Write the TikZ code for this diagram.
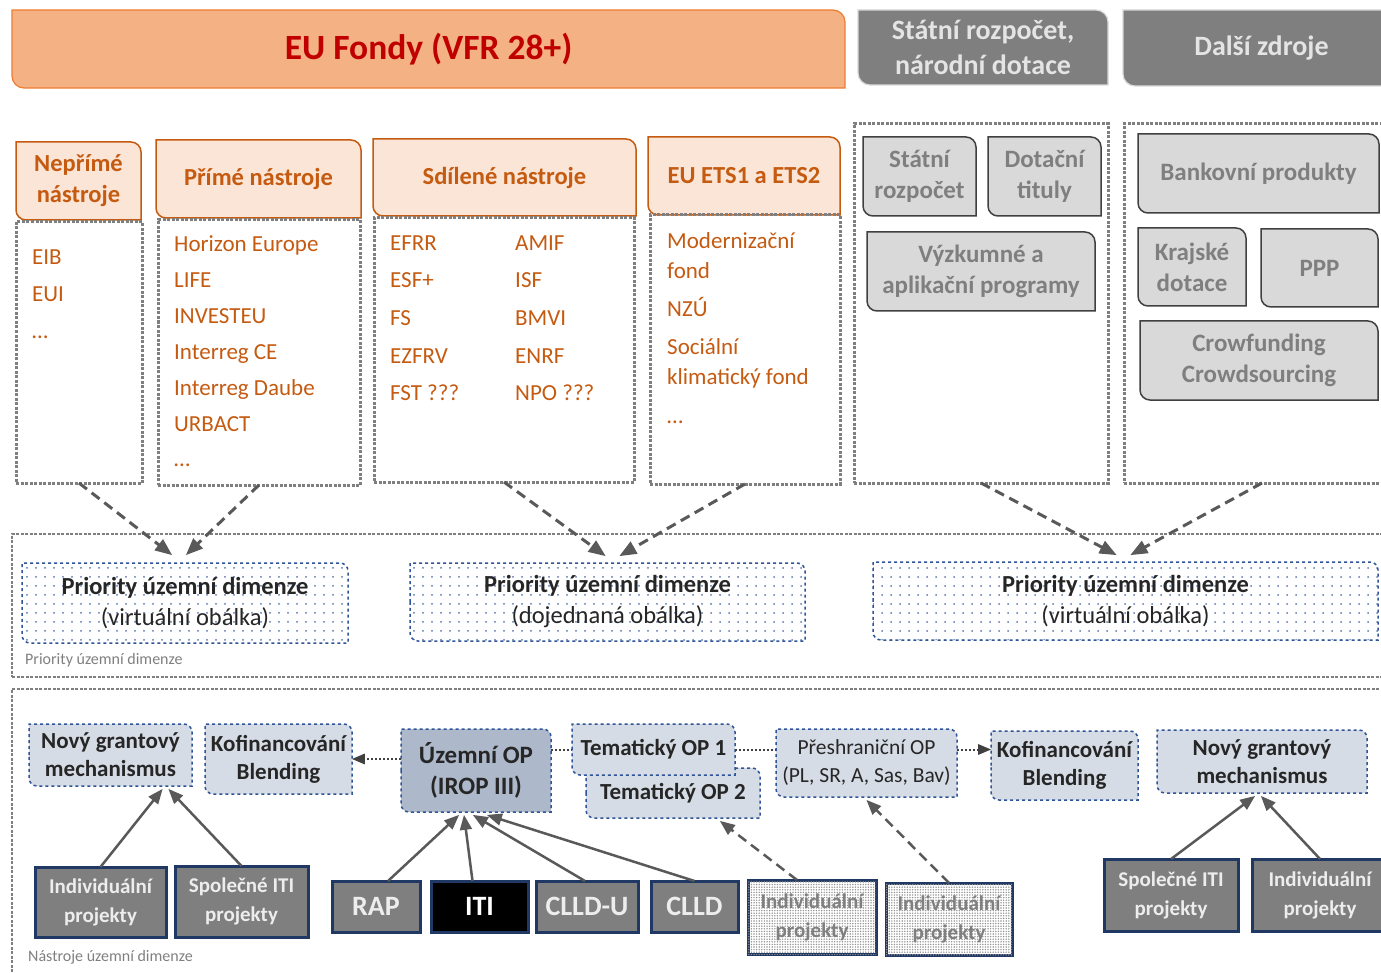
\documentclass[tikz,border=0pt]{standalone}
\usepackage{fontspec}
\setmainfont{Carlito}
\usepackage{tikz}
\usetikzlibrary{arrows,positioning,calc,patterns.meta}
\definecolor{cEUfill}{HTML}{F4B183}
\definecolor{cEUline}{HTML}{ED7D31}
\definecolor{cEUtext}{HTML}{C00000}
\definecolor{cPeach}{HTML}{FBE5D6}
\definecolor{cRust}{HTML}{C55A11}
\definecolor{cMid}{HTML}{7F7F7F}
\definecolor{cPale}{HTML}{D9D9D9}
\definecolor{cDark}{HTML}{404040}
\definecolor{cArrow}{HTML}{595959}
\definecolor{cBlue}{HTML}{2F5597}
\definecolor{cBlueFill}{HTML}{D6DCE5}
\definecolor{cBlueDeep}{HTML}{ADB9CA}
\definecolor{cNavy}{HTML}{1F3864}
\definecolor{cInk}{HTML}{262626}
\definecolor{cNatText}{HTML}{E4E4E4}
\pgfdeclarelayer{back}
\pgfsetlayers{back,main}
\newcommand\diag[3][10pt]{\begin{pgfonlayer}{back}\draw[#3] (#2.west) -- (#2.north west) [rounded corners=#1] -- (#2.north east) [sharp corners] -- (#2.south east) [rounded corners=#1] -- (#2.south west) [sharp corners] -- cycle;\end{pgfonlayer}}
\tikzset{box/.style={inner sep=0pt, outer sep=0pt, align=center},
  eubox/.style={box, text=cEUtext, font=\fontsize{35.5}{42}\selectfont\bfseries},
  eushape/.style={fill=cEUfill, draw=cEUline, line width=1.2pt},
  natbox/.style={box, text=cNatText, font=\fontsize{28}{35}\selectfont\bfseries},
  natshape/.style={fill=cMid, draw=cPale, line width=1.2pt},
  headbox/.style={box, text=cRust, font=\fontsize{24.5}{31}\selectfont\bfseries},
  headshape/.style={fill=cPeach, draw=cRust, line width=1.5pt},
  fundframe/.style={box, draw=cMid, line width=3pt, dash pattern=on 3pt off 1.5pt},
  fund/.style={inner sep=0pt, anchor=west, text=cRust, font=\fontsize{23}{30}\selectfont, text height=17pt, text depth=2pt},
  srcbox/.style={box, text=cMid, font=\fontsize{25}{31}\selectfont\bfseries},
  srcshape/.style={fill=cPale, draw=cDark, line width=1.5pt},
  prio/.style={box, text=cInk, font=\fontsize{24.5}{31}\selectfont},
  prioshape/.style={draw=cBlue, dashed, line width=1.5pt, pattern={Dots[distance=9pt,radius=1pt]}, pattern color=cBlue!80},
  tool/.style={box, text=cInk, font=\fontsize{23}{28}\selectfont\bfseries},
  toolshape/.style={fill=cBlueFill, draw=cBlue, dashed, line width=1.5pt},
  proj/.style={box, fill=cMid, draw=cNavy, line width=3pt, text=white!93!black, font=\fontsize{21}{29}\selectfont\bfseries},
  projdot/.style={proj, fill=white, text=cMid, postaction={pattern={Dots[distance=2.6pt,radius=0.8pt]}, pattern color=gray!85}},
  feed/.style={-triangle 45, draw=cArrow, line width=3pt, dash pattern=on 10pt off 6pt},
  link/.style={-triangle 45, draw=cArrow, line width=2.5pt},
  tie/.style={draw=cDark, line width=2pt, dotted},
  label/.style={anchor=west, inner sep=0pt, text=cMid, font=\fontsize{16}{18}\selectfont}}
\begin{document}
\begin{tikzpicture}[x=1pt,y=-1pt]
\useasboundingbox (0,0) rectangle (1381,973);
\node[eubox, minimum width=833pt, minimum height=78pt] (eu) at (428.5,49) {EU Fondy (VFR 28+)};
\diag[12pt]{eu}{eushape}
\node[natbox, minimum width=250pt, minimum height=75pt] (nat) at (983,47.5) {Státní rozpočet,\\národní dotace};
\diag[12pt]{nat}{natshape}
\node[natbox, minimum width=277pt, minimum height=76pt] (dal) at (1261.5,48) {Další zdroje};
\diag[12pt]{dal}{natshape}

\node[headbox, minimum width=125pt, minimum height=78pt] (nep) at (78.5,181) {Nepřímé\\nástroje};
\node[headbox, minimum width=205pt, minimum height=78pt] (pri) at (258.5,179) {Přímé nástroje};
\node[headbox, minimum width=263pt, minimum height=77pt] (sdi) at (504.5,177.5) {Sdílené nástroje};
\node[headbox, minimum width=192pt, minimum height=78pt] (ets) at (744,176) {EU ETS1 a ETS2};
\foreach \h in {nep,pri,sdi,ets} \diag{\h}{headshape};

\node[fundframe, minimum width=126pt, minimum height=261pt] (fr1) at (79,352.5) {};
\node[fundframe, minimum width=202pt, minimum height=265pt] (fr2) at (259,352.5) {};
\node[fundframe, minimum width=260pt, minimum height=264pt] (fr3) at (504,350) {};
\node[fundframe, minimum width=190pt, minimum height=269pt] (fr4) at (745,349.5) {};
\node[fundframe, minimum width=254pt, minimum height=359pt] (fr5) at (981,303.5) {};
\node[fundframe, minimum width=276pt, minimum height=359pt] (fr6) at (1262,303.5) {};

\foreach \f [count=\i] in {EIB,EUI,\dots}
  \node[fund] (nep\i) at (32,{257+37*(\i-1)}) {\f};
\foreach \f [count=\i] in {Horizon Europe,LIFE,INVESTEU,Interreg CE,Interreg Daube,URBACT,\dots}
  \node[fund] (pri\i) at (174,{244+35.9*(\i-1)}) {\f};
\foreach \f [count=\i] in {EFRR,ESF+,FS,EZFRV,FST ???}
  \node[fund] (sda\i) at (390,{243+37.5*(\i-1)}) {\f};
\foreach \f [count=\i] in {AMIF,ISF,BMVI,ENRF,NPO ???}
  \node[fund] (sdb\i) at (515,{243+37.5*(\i-1)}) {\f};
\foreach \f/\y [count=\i] in {Modernizační/241,fond/271,NZÚ/309,Sociální/347,klimatický fond/377,\dots/416}
  \node[fund] (ets\i) at (667,\y) {\f};

\node[srcbox, minimum width=113pt, minimum height=79pt] (srz) at (919.5,176.5) {Státní\\rozpočet};
\node[srcbox, minimum width=113pt, minimum height=79pt] (dtt) at (1044.5,176.5) {Dotační\\tituly};
\node[srcbox, minimum width=228pt, minimum height=79pt] (vyz) at (981,271.5) {Výzkumné a\\aplikační programy};
\node[srcbox, minimum width=241pt, minimum height=79pt] (bnk) at (1258.5,173.5) {Bankovní produkty};
\node[srcbox, minimum width=108pt, minimum height=78pt] (krj) at (1192,267) {Krajské\\dotace};
\node[srcbox, minimum width=117pt, minimum height=78pt] (ppp) at (1319.5,268) {PPP};
\node[srcbox, minimum width=238pt, minimum height=79pt] (crw) at (1259,360.5) {Crowfunding\\Crowdsourcing};
\foreach \s in {srz,dtt,vyz,bnk,krj,ppp,crw} \diag{\s}{srcshape};

\node[fundframe, line width=2.5pt, minimum width=1388pt, minimum height=143pt] (pc) at (706,605.5) {};
\node[label] (pcl) at (25,660) {Priority územní dimenze};
\node[prio, minimum width=326pt, minimum height=80pt] (pr1) at (185,603) {{\fontsize{24.5}{31}\selectfont\bfseries Priority územní dimenze}\\(virtuální obálka)};
\node[prio, minimum width=395pt, minimum height=78pt] (pr2) at (607.5,602) {{\fontsize{24.5}{31}\selectfont\bfseries Priority územní dimenze}\\(dojednaná obálka)};
\node[prio, minimum width=505pt, minimum height=78pt] (pr3) at (1125.5,601) {{\fontsize{24.5}{31}\selectfont\bfseries Priority územní dimenze}\\(virtuální obálka)};
\foreach \p in {pr1,pr2,pr3} \diag[8pt]{\p}{prioshape};

\draw[feed] (fr1.south) -- ([xshift=-13pt,yshift=8pt]pr1.north);
\draw[feed] (fr2.south) -- ([xshift=1pt,yshift=8pt]pr1.north);
\draw[feed] (fr3.south) -- ([xshift=-2pt,yshift=7pt]pr2.north);
\draw[feed] (fr4.south) -- ([xshift=12pt,yshift=7pt]pr2.north);
\draw[feed] (fr5.south) -- ([xshift=-9pt,yshift=7pt]pr3.north);
\draw[feed] (fr6.south) -- ([xshift=5pt,yshift=7pt]pr3.north);

\node[fundframe, line width=2.5pt, minimum width=1388pt, minimum height=301pt] (nc) at (706,839.5) {};
\node[label] (ncl) at (28,957) {Nástroje územní dimenze};

\node[tool, minimum width=163pt, minimum height=62pt] (ngm1) at (110.5,755) {Nový grantový\\mechanismus};
\node[tool, minimum width=147pt, minimum height=70pt] (kof1) at (278.5,759) {Kofinancování\\Blending};
\node[tool, font=\fontsize{25}{31}\selectfont\bfseries, minimum width=150pt, minimum height=83pt] (uzop) at (476,770.5) {Územní OP\\(IROP III)};
\node[tool, minimum width=174pt, minimum height=50pt] (tem2) at (673,793) {Tematický OP 2};
\node[tool, minimum width=163pt, minimum height=51pt] (tem1) at (653.5,749.5) {Tematický OP 1};
\node[tool, font=\fontsize{21.5}{28}\selectfont, minimum width=181pt, minimum height=68pt] (presh) at (866.5,763) {Přeshraniční OP\\(PL, SR, A, Sas, Bav)};
\node[tool, minimum width=147pt, minimum height=69pt] (kof2) at (1064.5,765.5) {Kofinancování\\Blending};
\node[tool, minimum width=210pt, minimum height=63pt] (ngm2) at (1262,761.5) {Nový grantový\\mechanismus};
\foreach \t in {ngm1,kof1,tem2,tem1,presh,kof2,ngm2} \diag[8pt]{\t}{toolshape};
\diag[8pt]{uzop}{toolshape, fill=cBlueDeep}

\draw[tie, -triangle 45] (kof1.east -| uzop.west) -- (kof1.east);
\draw[tie] (uzop.east |- tem1.west) -- (tem1.west);
\draw[tie] (tem1.east) -- (presh.west |- tem1.east);
\draw[tie, -triangle 45] (presh.east |- tem1.east) -- (kof2.west |- tem1.east);

\node[proj, minimum width=131pt, minimum height=70pt] (ind1) at (100.5,902) {Individuální\\projekty};
\node[proj, minimum width=133pt, minimum height=71pt] (spl1) at (241.5,901.5) {Společné ITI\\projekty};
\node[proj, font=\fontsize{28}{30}\selectfont\bfseries, minimum width=88pt, minimum height=51pt] (rap) at (376,906.5) {RAP};
\node[proj, fill=black, text=white, font=\fontsize{28}{30}\selectfont\bfseries, minimum width=97pt, minimum height=51pt] (iti) at (479.5,906.5) {ITI};
\node[proj, font=\fontsize{28}{30}\selectfont\bfseries, minimum width=102pt, minimum height=51pt] (clu) at (587,906.5) {CLLD-U};
\node[proj, font=\fontsize{28}{30}\selectfont\bfseries, minimum width=87pt, minimum height=51pt] (cld) at (694.5,906.5) {CLLD};
\node[projdot, minimum width=128pt, minimum height=74pt] (ind2) at (812,917) {Individuální\\projekty};
\node[projdot, minimum width=126pt, minimum height=72pt] (ind3) at (949,919) {Individuální\\projekty};
\node[proj, minimum width=134pt, minimum height=72pt] (spl2) at (1171,895) {Společné ITI\\projekty};
\node[proj, minimum width=136pt, minimum height=72pt] (ind4) at (1320,895) {Individuální\\projekty};

\draw[link] (ind1.north) -- ([xshift=52pt,yshift=-3pt]ngm1.south);
\draw[link] (spl1.north) -- ([xshift=58pt,yshift=-3pt]ngm1.south);
\draw[link] ([xshift=12pt]rap.north) -- ([xshift=-17pt,yshift=-3pt]uzop.south);
\draw[link] ([xshift=-7pt]iti.north) -- ([xshift=-12pt,yshift=-3pt]uzop.south);
\draw[link] ([xshift=-2pt]clu.north) -- ([xshift=-3pt,yshift=-3pt]uzop.south);
\draw[link] (cld.north) -- ([xshift=11pt,yshift=-3pt]uzop.south);
\draw[feed, line width=2.5pt] ([xshift=-15pt]ind2.north) -- ([xshift=47pt,yshift=-3pt]tem2.south);
\draw[feed, line width=2.5pt] (ind3.north) -- ([yshift=-3pt]presh.south);
\draw[link] (spl2.north) -- ([xshift=-7pt,yshift=-3pt]ngm2.south);
\draw[link] (ind4.north) -- ([xshift=-1pt,yshift=-3pt]ngm2.south);
\end{tikzpicture}
\end{document}
